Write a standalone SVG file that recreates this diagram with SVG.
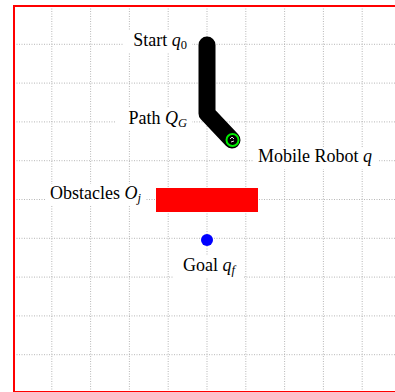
<svg xmlns="http://www.w3.org/2000/svg" width="395" height="392" viewBox="0 0 395 392">
  <style>
    .grid line { stroke: #a5a5a5; stroke-width: 0.8; stroke-dasharray: 1 1.5; }
    .lbl { font-family: "Liberation Serif", "DejaVu Serif", serif; font-size: 18px; fill: #000; }
    .m { font-style: italic; }
    .sub { font-size: 12.5px; }
    .bg { fill: #fff; }
  </style>
  <rect x="0" y="0" width="395" height="392" fill="#fff"/>
  <g class="grid" id="grid">
    <line x1="51.8" y1="6" x2="51.8" y2="392"/>
    <line x1="90.6" y1="6" x2="90.6" y2="392"/>
    <line x1="129.4" y1="6" x2="129.4" y2="392"/>
    <line x1="168.2" y1="6" x2="168.2" y2="392"/>
    <line x1="207" y1="6" x2="207" y2="392"/>
    <line x1="245.8" y1="6" x2="245.8" y2="392"/>
    <line x1="284.6" y1="6" x2="284.6" y2="392"/>
    <line x1="323.4" y1="6" x2="323.4" y2="392"/>
    <line x1="362.2" y1="6" x2="362.2" y2="392"/>
    <line x1="14" y1="44.3" x2="395" y2="44.3"/>
    <line x1="14" y1="83.1" x2="395" y2="83.1"/>
    <line x1="14" y1="121.9" x2="395" y2="121.9"/>
    <line x1="14" y1="160.7" x2="395" y2="160.7"/>
    <line x1="14" y1="199.5" x2="395" y2="199.5"/>
    <line x1="14" y1="238.3" x2="395" y2="238.3"/>
    <line x1="14" y1="277.1" x2="395" y2="277.1"/>
    <line x1="14" y1="315.9" x2="395" y2="315.9"/>
    <line x1="14" y1="354.7" x2="395" y2="354.7"/>
  </g>
  <rect id="frame" x="14" y="6" width="400" height="386" fill="none" stroke="#ff0000" stroke-width="2"/>
  <g id="connectors">
    <path d="M207,45 L207,113.5 L232,140" fill="none" stroke="#000" stroke-width="17" stroke-linecap="round" stroke-linejoin="round"/>
  </g>
  <g id="obstacle">
    <rect x="156" y="188" width="102" height="24" fill="#ff0000"/>
  </g>
  <g id="goal">
    <circle cx="207" cy="240" r="6" fill="#0000ff"/>
  </g>
  <g id="robot">
    <circle cx="232.5" cy="140" r="6" fill="#000" stroke="#00ee00" stroke-width="2"/>
    <path d="M230,139 l2,-2 l2,2 M231,142 l3,-1" fill="none" stroke="#fff" stroke-width="0.9"/>
  </g>
  <g id="label-start">
    <rect class="bg" x="124" y="31" width="68" height="22"/>
    <text class="lbl" x="187" y="46" text-anchor="end">Start <tspan class="m">q</tspan><tspan class="sub" dy="3">0</tspan></text>
  </g>
  <g id="label-path">
    <rect class="bg" x="116" y="108" width="76" height="23"/>
    <text class="lbl" x="187" y="124" text-anchor="end">Path <tspan class="m">Q</tspan><tspan class="sub m" dy="3">G</tspan></text>
  </g>
  <g id="label-robot">
    <rect class="bg" x="253" y="147" width="126" height="22"/>
    <text class="lbl" x="258" y="162">Mobile Robot <tspan class="m">q</tspan></text>
  </g>
  <g id="label-obstacles">
    <rect class="bg" x="45" y="184" width="100" height="22"/>
    <text class="lbl" x="141" y="199" text-anchor="end">Obstacles <tspan class="m">O</tspan><tspan class="sub m" dy="3">j</tspan></text>
  </g>
  <g id="label-goal">
    <rect class="bg" x="174" y="256" width="70" height="22"/>
    <text class="lbl" x="209" y="271" text-anchor="middle">Goal <tspan class="m">q</tspan><tspan class="sub m" dy="3">f</tspan></text>
  </g>
</svg>
